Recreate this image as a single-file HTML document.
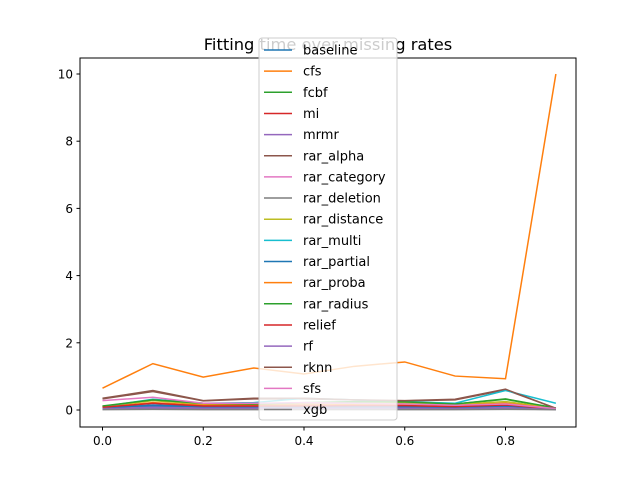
<!DOCTYPE html>
<html><head><meta charset="utf-8"><style>
body{margin:0;background:#fff;font-family:"Liberation Sans","DejaVu Sans",sans-serif}
</style></head><body>
<svg width="640" height="480" xmlns="http://www.w3.org/2000/svg">
<rect width="640" height="480" fill="#fff"/>
<text x="328" y="50" font-size="16.3" text-anchor="middle" font-family="DejaVu Sans,Liberation Sans,sans-serif">Fitting time over missing rates</text>
<g id="plot"></g>
<rect x="80" y="58" width="496" height="369" fill="none" stroke="#000" stroke-width="1"/>
<g id="axes" font-family="DejaVu Sans,Liberation Sans,sans-serif" font-size="12"></g>
<g id="legend" font-family="DejaVu Sans,Liberation Sans,sans-serif" font-size="13"></g>
</svg>
<script>
const xs=[0,0.1,0.2,0.3,0.4,0.5,0.6,0.7,0.8,0.9];
const names=["baseline","cfs","fcbf","mi","mrmr","rar_alpha","rar_category","rar_deletion","rar_distance","rar_multi","rar_partial","rar_proba","rar_radius","relief","rf","rknn","sfs","xgb"];
const colors=["#1f77b4","#ff7f0e","#2ca02c","#d62728","#9467bd","#8c564b","#e377c2","#7f7f7f","#bcbd22","#17becf","#1f77b4","#ff7f0e","#2ca02c","#d62728","#9467bd","#8c564b","#e377c2","#7f7f7f"];
const s_baseline=[0.05,0.12,0.08,0.08,0.08,0.08,0.07,0.06,0.1,0.02];
const s_cfs=[0.65,1.38,0.98,1.25,1.07,1.3,1.43,1.01,0.93,10.0];
const s_fcbf=[0.1,0.3,0.18,0.17,0.2,0.22,0.22,0.18,0.32,0.05];
const s_mi=[0.08,0.2,0.12,0.12,0.12,0.12,0.12,0.1,0.15,0.03];
const s_mrmr=[0.05,0.08,0.06,0.06,0.06,0.06,0.06,0.05,0.08,0.02];
const s_rar_alpha=[0.33,0.55,0.27,0.33,0.33,0.3,0.27,0.3,0.6,0.05];
const s_rar_category=[0.1,0.3,0.17,0.16,0.18,0.2,0.2,0.15,0.2,0.05];
const s_rar_deletion=[0.03,0.04,0.03,0.03,0.03,0.03,0.03,0.03,0.04,0.01];
const s_rar_distance=[0.1,0.28,0.17,0.17,0.2,0.22,0.22,0.17,0.25,0.05];
const s_rar_multi=[0.1,0.32,0.2,0.22,0.35,0.3,0.25,0.2,0.58,0.2];
const s_rar_partial=[0.06,0.15,0.1,0.1,0.1,0.1,0.1,0.08,0.12,0.03];
const s_rar_proba=[0.08,0.22,0.14,0.14,0.15,0.16,0.16,0.14,0.2,0.04];
const s_rar_radius=[0.12,0.3,0.2,0.18,0.22,0.25,0.24,0.18,0.33,0.06];
const s_relief=[0.08,0.2,0.12,0.12,0.12,0.13,0.13,0.1,0.15,0.03];
const s_rf=[0.04,0.06,0.05,0.05,0.05,0.05,0.05,0.04,0.06,0.02];
const s_rknn=[0.35,0.58,0.28,0.35,0.35,0.3,0.28,0.32,0.62,0.05];
const s_sfs=[0.28,0.38,0.2,0.2,0.22,0.2,0.18,0.14,0.18,0.04];
const s_xgb=[0.01,0.02,0.01,0.01,0.01,0.01,0.01,0.01,0.02,0.01];
const series=[s_baseline,s_cfs,s_fcbf,s_mi,s_mrmr,s_rar_alpha,s_rar_category,s_rar_deletion,s_rar_distance,s_rar_multi,s_rar_partial,s_rar_proba,s_rar_radius,s_relief,s_rf,s_rknn,s_sfs,s_xgb];
const xTicks=[0,0.2,0.4,0.6,0.8];
const yTicks=[0,2,4,6,8,10];
const NS="http://www.w3.org/2000/svg";
const X=v=>102.5+(v)*503.75;
const Y=v=>410-v*33.6;
function mk(t,a,p){const e=document.createElementNS(NS,t);for(const k in a)e.setAttribute(k,a[k]);p.appendChild(e);return e;}
const plot=document.getElementById('plot');
series.forEach((s,i)=>{
 const pl=mk('polyline',{points:s.map((v,j)=>X(xs[j])+','+Y(v)).join(' '),fill:'none',stroke:colors[i],'stroke-width':1.5},plot);
 
 
});
const ax=document.getElementById('axes');
xTicks.forEach(t=>{
 const l=mk('line',{x1:X(t),x2:X(t),y1:427,y2:430.5,stroke:'#000'},ax);
 
 
 const tx=mk('text',{x:X(t),y:445,'text-anchor':'middle'},ax);tx.textContent=t.toFixed(1);
 
 
});
yTicks.forEach(t=>{
 const l=mk('line',{x1:76.5,x2:80,y1:Y(t),y2:Y(t),stroke:'#000'},ax);
 
 
 const tx=mk('text',{x:73,y:Y(t)+4.5,'text-anchor':'end'},ax);tx.textContent=t;
 
 
});
const lg=document.getElementById('legend');
const box=mk('rect',{x:259,y:38,width:138,height:382,rx:3,fill:'#fff','fill-opacity':0.8,stroke:'#ccc'},lg);


names.forEach((n,i)=>{
 const y=50+i*21.15;
 const g=mk('g',{},lg);
 
 
 mk('line',{x1:264,x2:292,y1:y,y2:y,stroke:colors[i],'stroke-width':1.5},g);
 const t=mk('text',{x:303,y:y+4.5},g);t.textContent=n;
});
</script>
</body></html>
